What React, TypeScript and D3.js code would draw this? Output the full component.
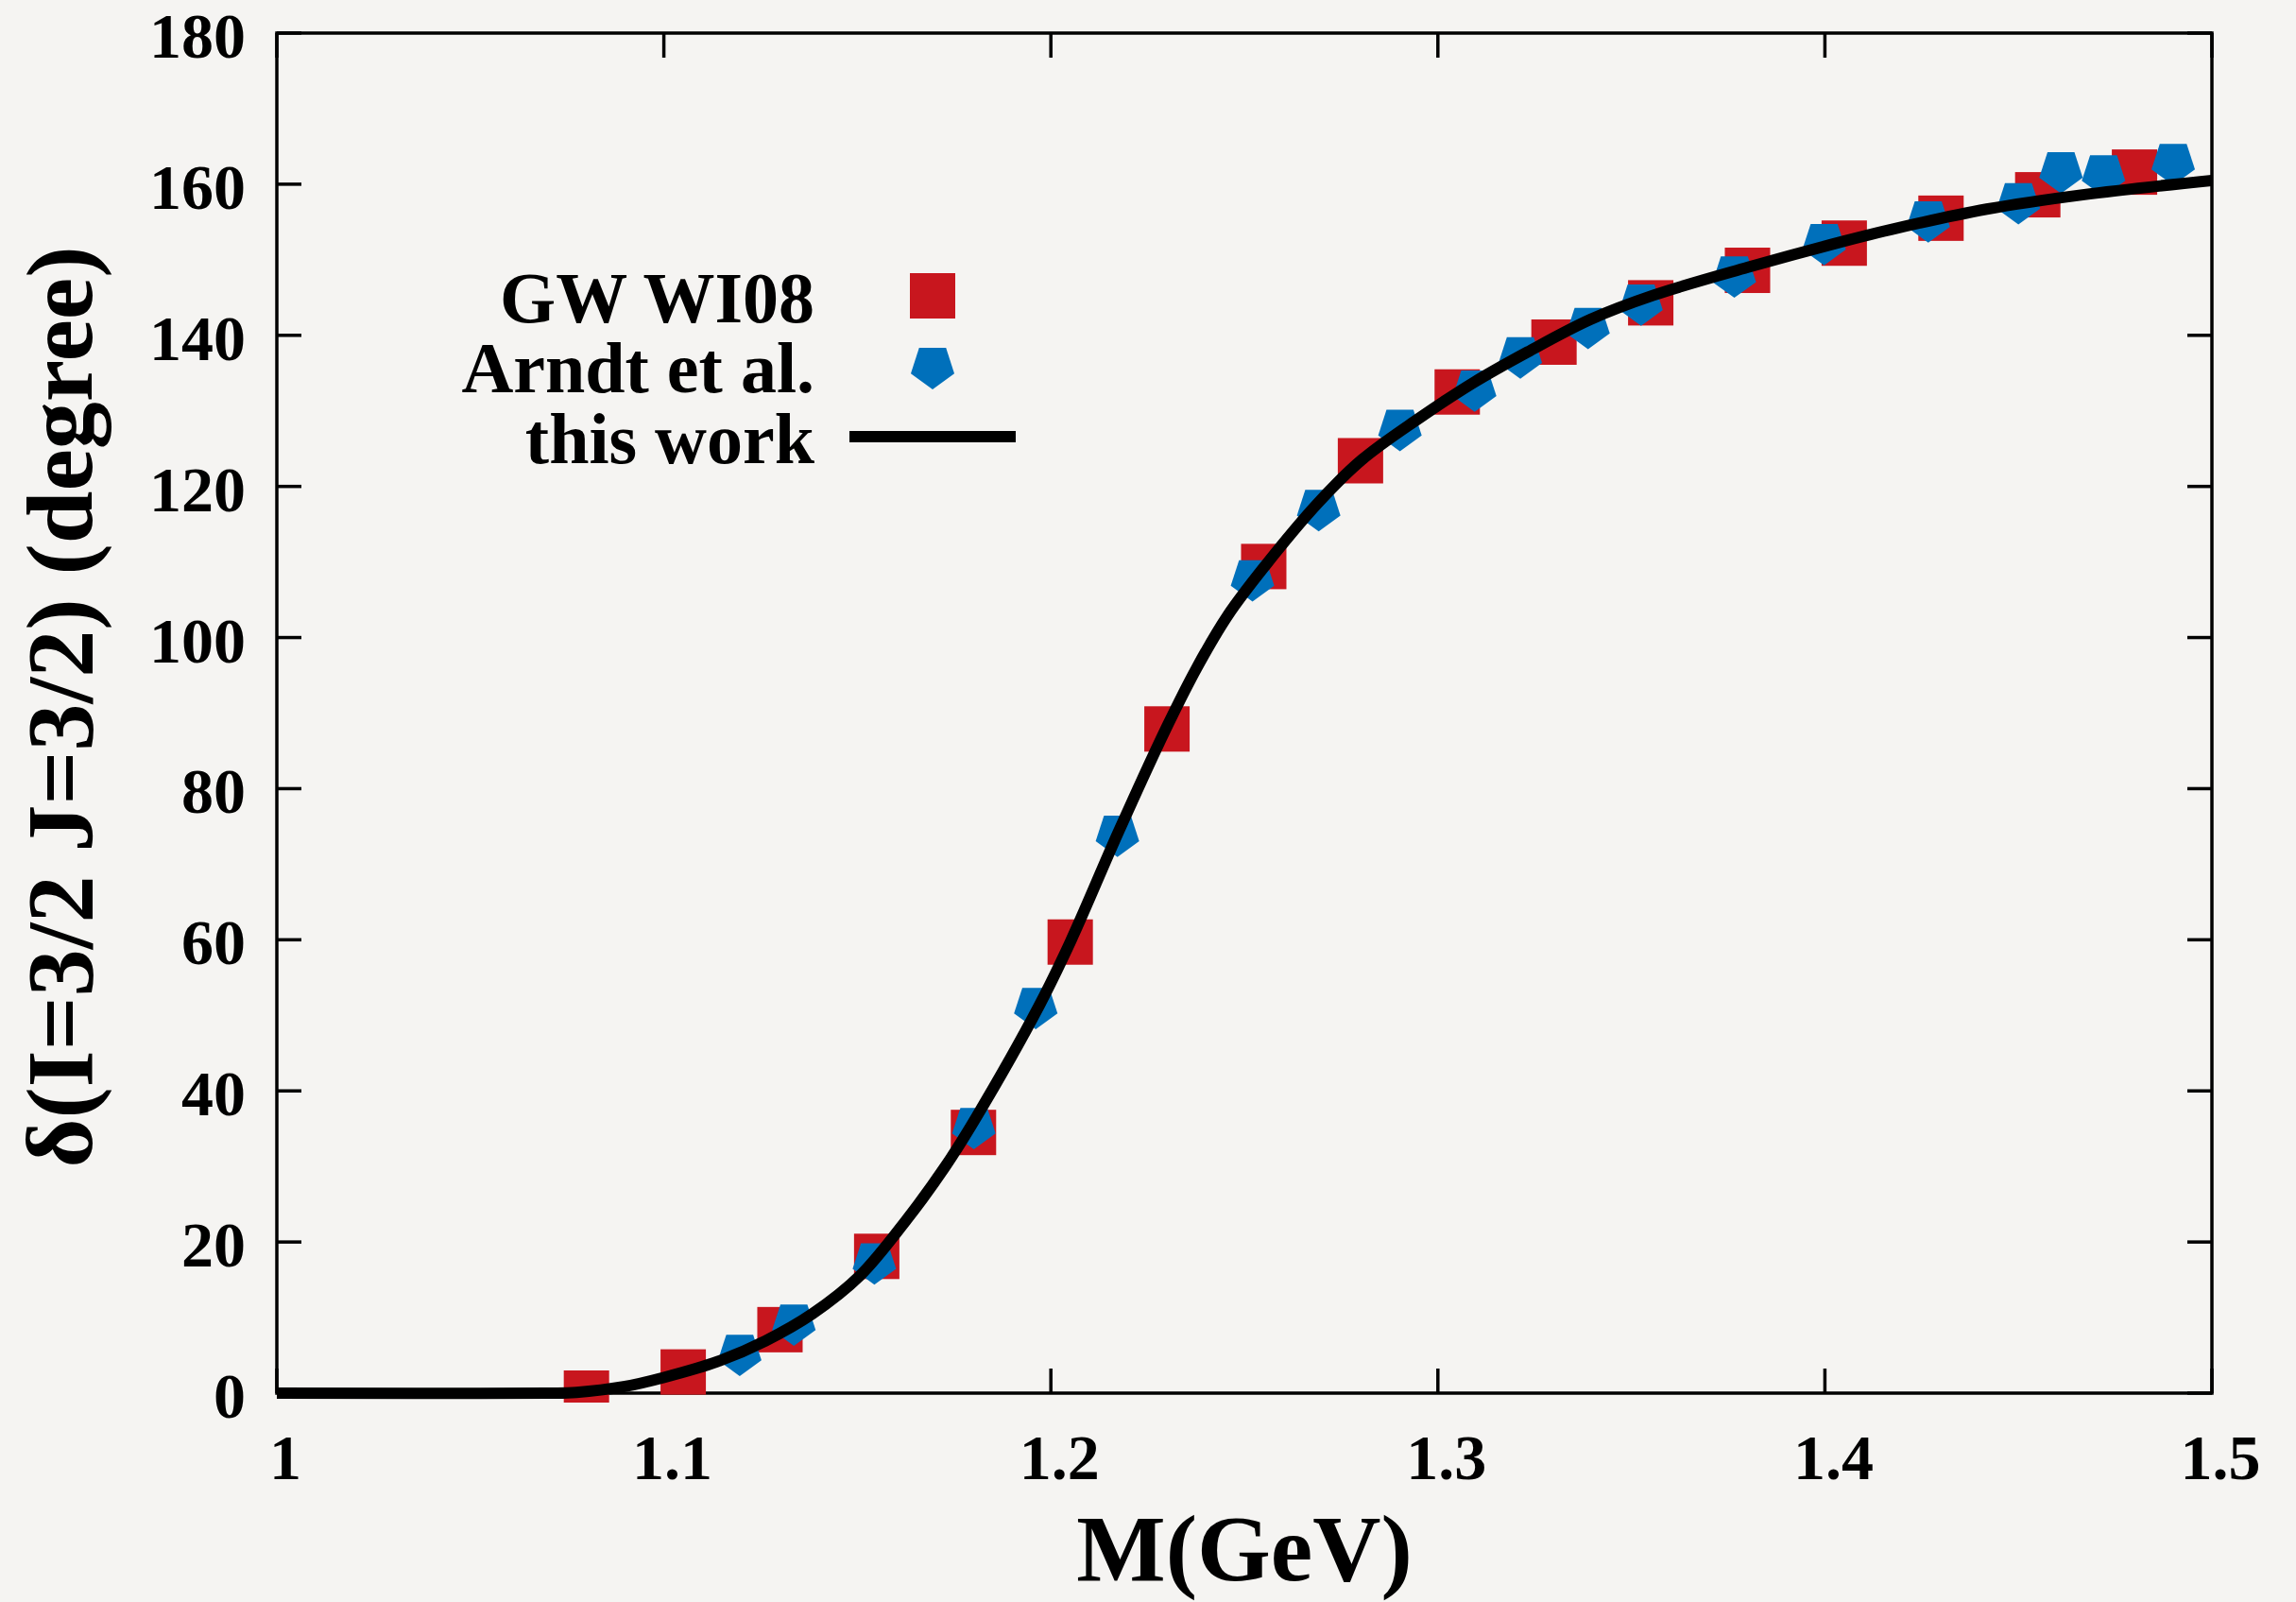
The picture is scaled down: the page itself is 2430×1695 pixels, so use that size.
import React from "react";
import * as d3 from "d3";

// ---------- data ----------
const gwMass = [1.08, 1.105, 1.13, 1.155, 1.18, 1.205, 1.23, 1.255, 1.28, 1.305, 1.33, 1.355, 1.38, 1.405, 1.43, 1.455, 1.48];
const gwDelta = [0, 2.8, 8.4, 18.1, 34.5, 59.7, 87.9, 109.4, 123.4, 132.5, 139.1, 144.3, 148.6, 152.2, 155.5, 158.6, 161.6];

const arndtMass = [1.1196, 1.1336, 1.1544, 1.1801, 1.1961, 1.2172, 1.2521, 1.2692, 1.2902, 1.3095, 1.3213, 1.3388, 1.3525, 1.3766, 1.3998, 1.4267, 1.45, 1.461, 1.472, 1.49];
const arndtDelta = [5.0, 9.0, 17.1, 35.0, 50.9, 73.7, 107.5, 116.8, 127.4, 132.6, 137.0, 140.9, 144.0, 147.7, 152.0, 155.0, 157.4, 161.5, 161.1, 162.6];

const curveMass = [1.0, 1.07, 1.0774, 1.0896, 1.1002, 1.114, 1.1262, 1.1384, 1.1506, 1.1628, 1.1726, 1.1807, 1.197, 1.2051, 1.2174, 1.2296, 1.2377, 1.2458, 1.2552, 1.269, 1.2803, 1.2948, 1.3094, 1.3232, 1.3394, 1.3557, 1.3801, 1.4045, 1.4171, 1.4418, 1.4666, 1.5];
const curveDelta = [0, 0, 0.1, 0.85, 2.1, 4.2, 6.9, 10.5, 15.5, 23.0, 29.9, 36.5, 51.3, 59.8, 74.2, 87.8, 96.0, 103.0, 109.4, 117.8, 123.5, 128.9, 133.8, 137.8, 142.1, 145.3, 149.0, 152.4, 154.0, 156.7, 158.6, 160.5];

const xTickValues = [1, 1.1, 1.2, 1.3, 1.4, 1.5];
const xTickLabels = ["1", "1.1", "1.2", "1.3", "1.4", "1.5"];
const yTickValues = [0, 20, 40, 60, 80, 100, 120, 140, 160, 180];
const yTickLabels = ["0", "20", "40", "60", "80", "100", "120", "140", "160", "180"];

const legendLabels = ["GW WI08", "Arndt et al.", "this work"];
const xTitle = "M(GeV)";
const yTitle = "δ(I=3/2 J=3/2) (degree)";

// ---------- styles ----------
const W = 2430;
const H = 1695;
const M = { left: 293, right: 2341, top: 35, bottom: 1474 };
const BG = "#f5f4f2";
const RED = "#c8161e";
const BLUE = "#0070bb";
const FONT = "'Liberation Serif', 'DejaVu Serif', 'Times New Roman', serif";

function pentagonPath(R: number): string {
  // point-down regular pentagon, bbox centred on origin
  const off = -0.0955 * R;
  const pts: [number, number][] = [];
  for (let i = 0; i < 5; i++) {
    const a = ((90 + i * 72) * Math.PI) / 180;
    pts.push([R * Math.cos(a), R * Math.sin(a) + off]);
  }
  return "M" + pts.map((p) => p[0].toFixed(2) + "," + p[1].toFixed(2)).join("L") + "Z";
}

export default function App() {
  const x = d3.scaleLinear().domain([1, 1.5]).range([M.left, M.right]);
  const y = d3.scaleLinear().domain([0, 180]).range([M.bottom, M.top]);

  const gw = gwMass.map((m, i) => ({ m, d: gwDelta[i] }));
  const arndt = arndtMass.map((m, i) => ({ m, d: arndtDelta[i] }));
  const curve = curveMass.map((m, i) => ({ m, d: curveDelta[i] }));

  const line = d3
    .line<{ m: number; d: number }>()
    .x((p) => x(p.m))
    .y((p) => Math.min(y(p.d), M.bottom))
    .curve(d3.curveCatmullRom.alpha(0.5));

  const sq = 48;
  const pent = pentagonPath(24.2);
  const tickLen = 26;
  const axisW = 3.5;

  const legRight = 862;
  const legSymX = 987;
  const legBase = [341, 415, 490];

  return (
    <svg
      width={W}
      height={H}
      viewBox={`0 0 ${W} ${H}`}
      style={{ position: "absolute", left: 0, top: 0, display: "block" }}
    >
      <rect x={0} y={0} width={W} height={H} fill={BG} />
      <defs>
        <clipPath id="plotClip">
          <rect x={M.left} y={M.top - 10} width={M.right - M.left} height={M.bottom - M.top + 20} />
        </clipPath>
      </defs>

      {/* ticks */}
      <g stroke="#000" strokeWidth={axisW}>
        {xTickValues.map((v, i) => (
          <g key={"xt" + i}>
            <line x1={x(v)} x2={x(v)} y1={M.bottom} y2={M.bottom - tickLen} />
            <line x1={x(v)} x2={x(v)} y1={M.top} y2={M.top + tickLen} />
          </g>
        ))}
        {yTickValues.map((v, i) => (
          <g key={"yt" + i}>
            <line x1={M.left} x2={M.left + tickLen} y1={y(v)} y2={y(v)} />
            <line x1={M.right} x2={M.right - tickLen} y1={y(v)} y2={y(v)} />
          </g>
        ))}
      </g>

      {/* frame */}
      <rect
        x={M.left}
        y={M.top}
        width={M.right - M.left}
        height={M.bottom - M.top}
        fill="none"
        stroke="#000"
        strokeWidth={axisW}
      />

      {/* tick labels */}
      <g fontFamily={FONT} fontWeight="bold" fontSize={68} fill="#000">
        {xTickValues.map((v, i) => (
          <text key={"xl" + i} x={x(v) + 9} y={1565} textAnchor="middle">
            {xTickLabels[i]}
          </text>
        ))}
        {yTickValues.map((v, i) => (
          <text key={"yl" + i} x={260} y={y(v) + 26} textAnchor="end">
            {yTickLabels[i]}
          </text>
        ))}
      </g>

      {/* axis titles */}
      <text
        x={(M.left + M.right) / 2}
        y={1672}
        textAnchor="middle"
        fontFamily={FONT}
        fontWeight="bold"
        fontSize={100}
      >
        {xTitle}
      </text>
      <text
        transform={`translate(97, 748) rotate(-90)`}
        textAnchor="middle"
        fontFamily={FONT}
        fontWeight="bold"
        fontSize={100}
      >
        {yTitle}
      </text>

      {/* data */}
      <g clipPath="url(#plotClip)">
        {gw.map((p, i) => (
          <rect
            key={"gw" + i}
            x={x(p.m) - sq / 2}
            y={y(p.d) - sq / 2}
            width={sq}
            height={sq}
            fill={RED}
          />
        ))}
        {arndt.map((p, i) => (
          <path key={"ar" + i} d={pent} transform={`translate(${x(p.m)},${y(p.d)})`} fill={BLUE} />
        ))}
        <path d={line(curve) || ""} fill="none" stroke="#000" strokeWidth={12} />
      </g>

      {/* legend */}
      <g fontFamily={FONT} fontWeight="bold" fontSize={76} fill="#000">
        {legendLabels.map((t, i) => (
          <text key={"lg" + i} x={legRight} y={legBase[i]} textAnchor="end">
            {t}
          </text>
        ))}
      </g>
      <rect x={legSymX - sq / 2} y={legBase[0] - 28 - sq / 2} width={sq} height={sq} fill={RED} />
      <path d={pent} transform={`translate(${legSymX},${legBase[1] - 25})`} fill={BLUE} />
      <line x1={899} x2={1075} y1={legBase[2] - 28} y2={legBase[2] - 28} stroke="#000" strokeWidth={12} />
    </svg>
  );
}
